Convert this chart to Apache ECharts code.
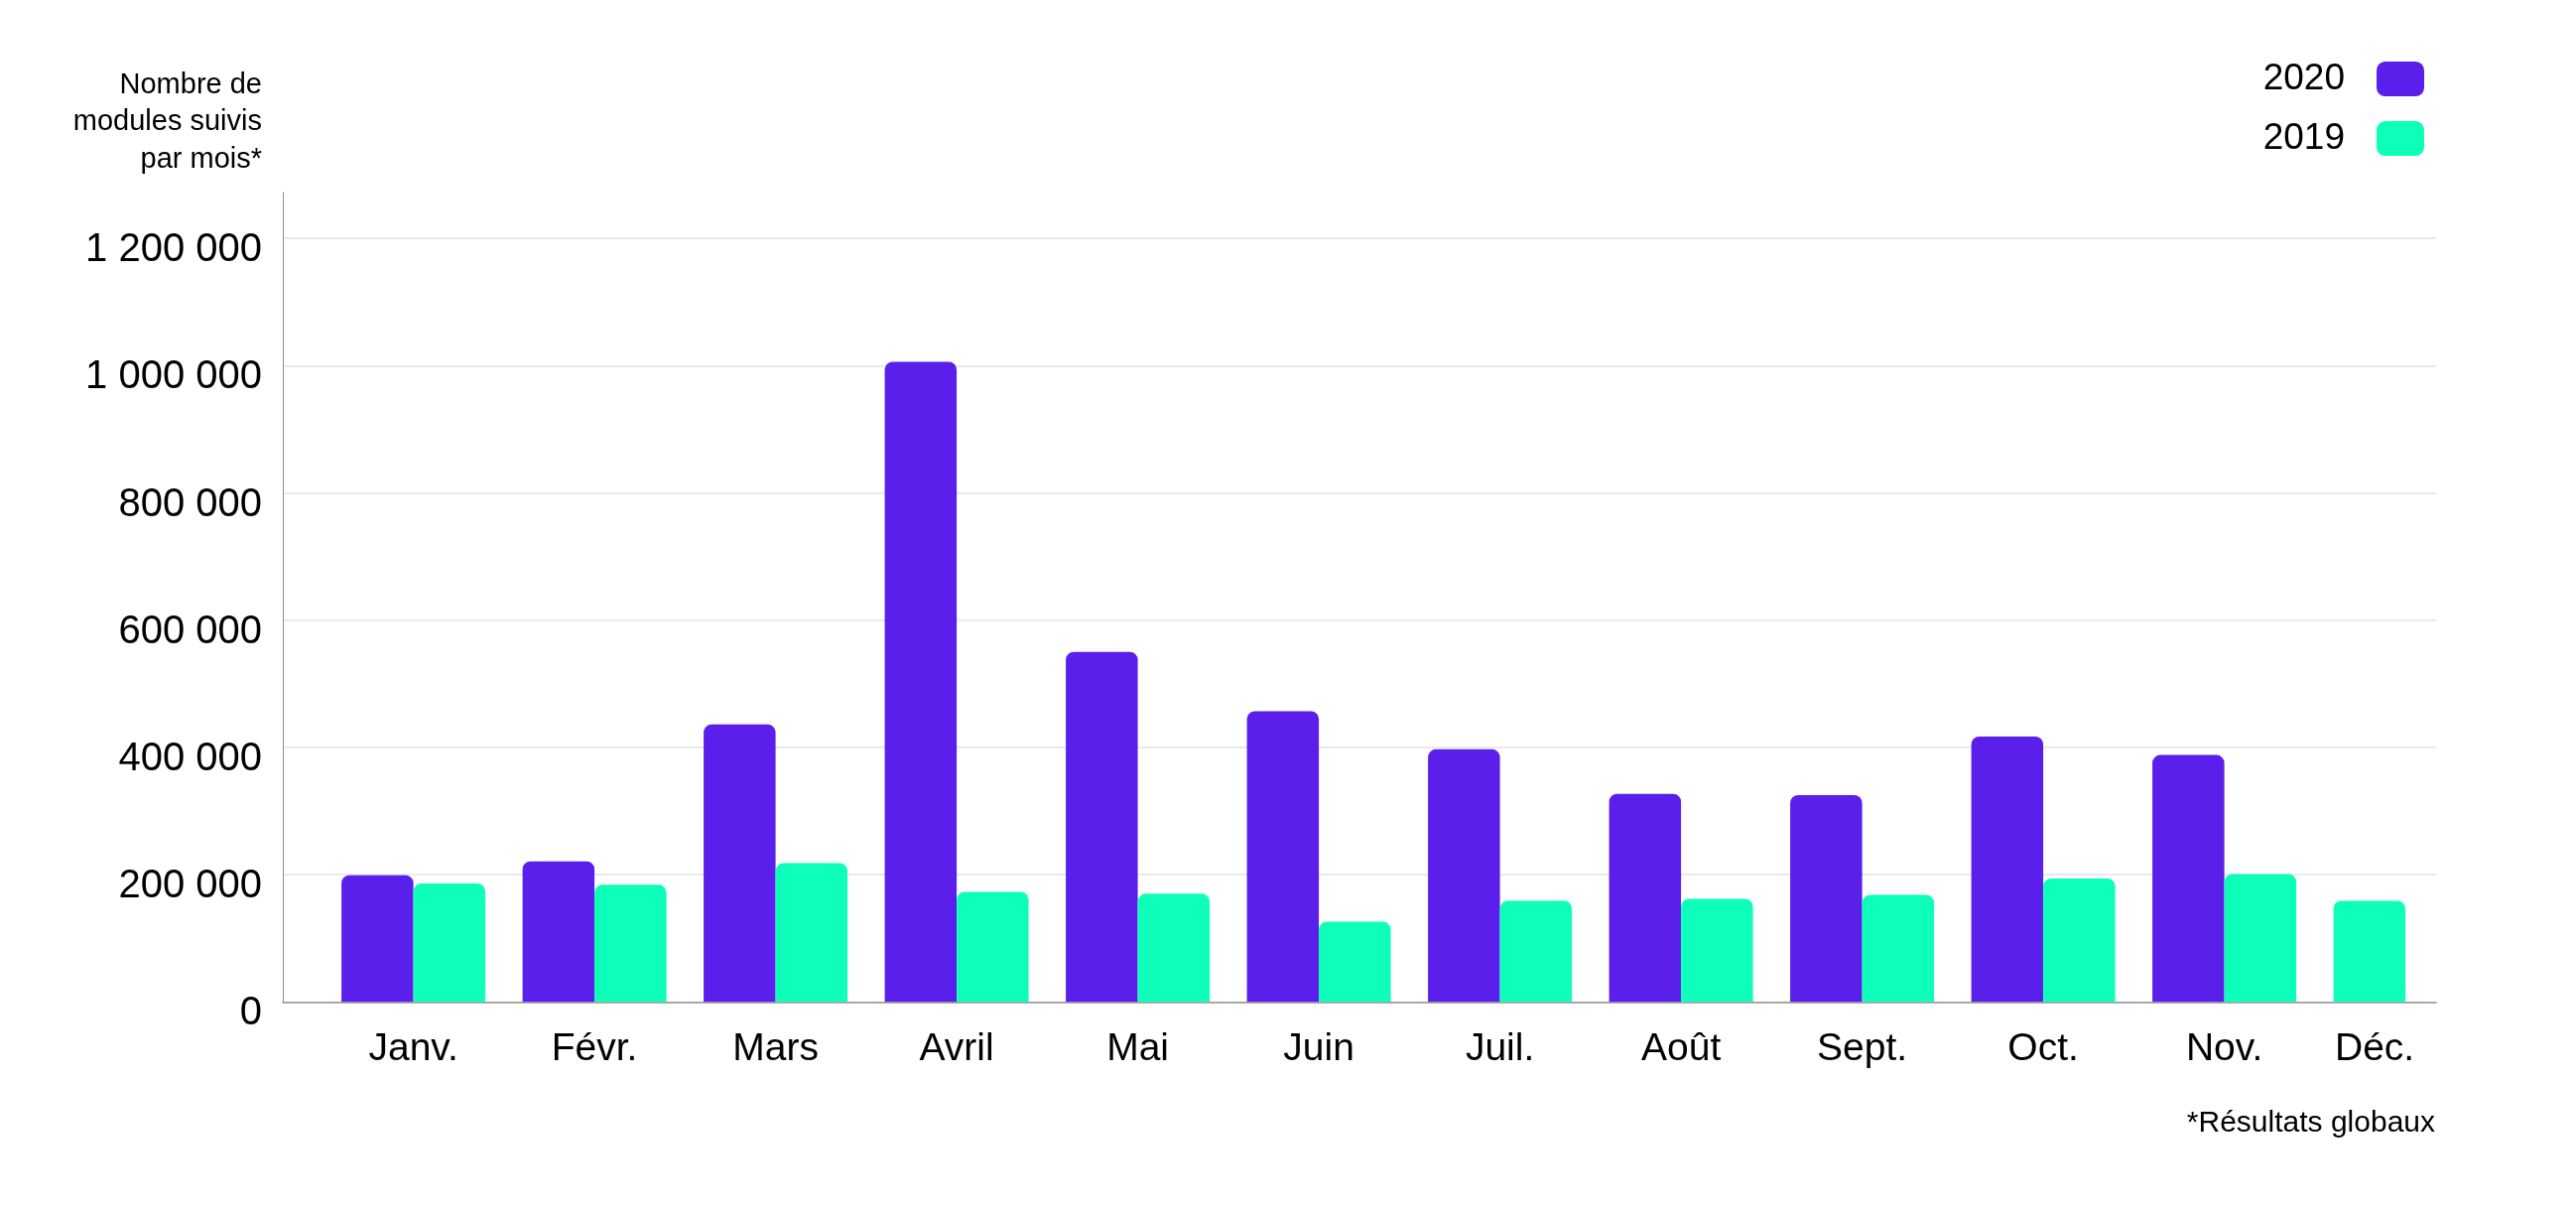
<!DOCTYPE html>
<html>
<head>
<meta charset="utf-8">
<script src="https://cdn.jsdelivr.net/npm/echarts@6/dist/echarts.min.js"></script>
<style>
html,body{margin:0;padding:0;background:#fff;}
#chart{width:2596px;height:1223px;}
</style>
</head>
<body>
<div id="chart"></div>
<script>
const months = ['Janv.', 'Févr.', 'Mars', 'Avril', 'Mai', 'Juin', 'Juil.', 'Août', 'Sept.', 'Oct.', 'Nov.', 'Déc.'];
const values2020 = [199000, 221000, 436000, 1006000, 550000, 457000, 397000, 327000, 325000, 417000, 388000, null];
const values2019 = [186000, 184000, 218000, 173000, 170000, 126000, 159000, 162000, 168000, 194000, 201000, 159000];
const yTicks = [0, 200000, 400000, 600000, 800000, 1000000, 1200000];
const yTitleLines = ['Nombre de', 'modules suivis', 'par mois*'];
const footnote = '*Résultats globaux';

const PURPLE = '#5B1FEB';
const GREEN = '#0DFFB9';
const FONT = '"Liberation Sans", Arial, sans-serif';

// 2019 values split: months with a 2020 bar, and months without (shares the 2020 slot)
const values2019Paired = values2019.map((v, i) => values2020[i] == null ? null : v);
const values2019Alone = values2019.map((v, i) => values2020[i] == null ? v : null);

function fmt(v) {
  return String(v).replace(/\B(?=(\d{3})+(?!\d))/g, ' ');
}

const chart = echarts.init(document.getElementById('chart'));
const yMax = 1272000;
const barW = 72.5;

const titleGraphics = yTitleLines.map((t, i) => ({
  type: 'text',
  right: 2332,
  top: 71 + i * 37.5,
  style: { text: t, fill: '#000', font: '29px "Liberation Sans", Arial, sans-serif' }
}));

chart.setOption({
  animation: false,
  backgroundColor: '#ffffff',
  graphic: titleGraphics.concat([
    {
      type: 'text',
      right: 142,
      top: 1117,
      style: { text: footnote, fill: '#000', font: '30px "Liberation Sans", Arial, sans-serif' }
    }
  ]),
  legend: {
    orient: 'vertical',
    right: 148,
    top: 56,
    align: 'right',
    itemWidth: 48,
    itemHeight: 35,
    itemGap: 23,
    icon: 'roundRect',
    data: ['2020', '2019'],
    textStyle: { fontFamily: FONT, fontSize: 37, color: '#000', padding: [0, 27, 0, 0] }
  },
  grid: [
    { left: 285, right: 141, top: 194, bottom: 213.7 },
    { left: 325.35, right: 80.65, top: 194, bottom: 213.7 }
  ],
  xAxis: [
    {
      gridIndex: 0, type: 'value', min: 0, max: 1,
      axisLine: { show: true, onZero: false, lineStyle: { color: '#8c8c8c', width: 1.5 } },
      axisTick: { show: false }, axisLabel: { show: false }, splitLine: { show: false }
    },
    {
      gridIndex: 1, type: 'category', data: months,
      axisLine: { show: false }, axisTick: { show: false },
      axisLabel: {
        interval: 0,
        margin: 28,
        fontFamily: FONT, fontSize: 39, color: '#000', lineHeight: 39,
        formatter: function (v, i) { return i === months.length - 1 ? '{last|' + v + '}' : v; },
        rich: { last: { fontFamily: FONT, fontSize: 39, color: '#000', lineHeight: 39, padding: [0, 62, 0, 0] } }
      }
    }
  ],
  yAxis: [
    {
      gridIndex: 0, type: 'value', min: 0, max: yMax, interval: 200000,
      axisLine: { show: true, lineStyle: { color: '#8c8c8c', width: 1 } },
      axisTick: { show: false },
      axisLabel: {
        margin: 21, showMaxLabel: false,
        fontFamily: FONT, fontSize: 40, color: '#000',
        verticalAlign: 'top', lineHeight: 24,
        formatter: function (v) { return yTicks.indexOf(v) >= 0 ? fmt(v) : ''; }
      },
      splitLine: { show: true, showMinLine: false, showMaxLine: false, lineStyle: { color: '#e2e2e2', width: 1.5 } }
    },
    {
      gridIndex: 1, type: 'value', min: 0, max: yMax, interval: 200000, show: false
    }
  ],
  series: [
    {
      name: '2020', type: 'bar', xAxisIndex: 1, yAxisIndex: 1, stack: 'slotA',
      data: values2020, barWidth: barW, barGap: '0%',
      itemStyle: { color: PURPLE, borderRadius: [8, 8, 0, 0] }
    },
    {
      name: '2019', type: 'bar', xAxisIndex: 1, yAxisIndex: 1,
      data: values2019Paired, barWidth: barW, barGap: '0%',
      itemStyle: { color: GREEN, borderRadius: [8, 8, 0, 0] }
    },
    {
      name: '2019', type: 'bar', xAxisIndex: 1, yAxisIndex: 1, stack: 'slotA',
      data: values2019Alone, barWidth: barW, barGap: '0%',
      itemStyle: { color: GREEN, borderRadius: [8, 8, 0, 0] }
    }
  ]
});
</script>
</body>
</html>
